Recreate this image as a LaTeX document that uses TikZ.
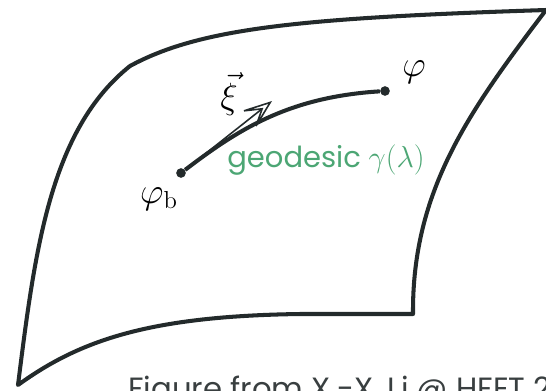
\documentclass[tikz,border=0pt]{standalone}
\usepackage{fontspec}
\setsansfont{Poppins}
\usetikzlibrary{arrows.meta}
\definecolor{ink}{HTML}{232A2B}
\definecolor{geo}{HTML}{4CA674}
\tikzset{
    edge/.style={ink, line width=2.3pt, line join=round},
    dot/.style={circle, fill=ink, inner sep=0pt, minimum size=5.5pt},
    lbl/.style={font=\fontsize{20}{24}\selectfont},
}
\begin{document}
\begin{tikzpicture}[x=0.02cm, y=-0.02cm]
    \clip (0, 0) rectangle (546, 390);
    \useasboundingbox (0, 0) rectangle (546, 390);
    % 流形的边界
    \draw[edge] (130, 66) .. controls (200, 28) and (300, 18) .. (546, 10)
        .. controls (470, 110) and (412, 190) .. (413, 314)
        -- (300, 314) .. controls (150, 316) and (80, 340) .. (18, 385)
        .. controls (35, 250) and (50, 130) .. cycle;
    % 两个点
    \node[dot] (b) at (181, 173) {};
    \node[dot] (p) at (385, 91) {};
    \node[lbl] (pl) at (414, 72) {$\varphi$};
    \node[lbl] (bl) at (159, 199) {$\varphi_{\mathrm{b}}$};
    % 测地线
    \draw[edge] (b) .. controls (240, 128) and (290, 97) .. (p);
    \node[geo, font=\sffamily\fontsize{16.5}{19}\selectfont] (gl) at (326, 160) {geodesic $\gamma(\lambda)$};
    % 切向量
    \coordinate (tip) at (272, 101);
    \draw[ink, line width=0.9pt, -{Stealth[length=20pt, width=15pt, inset=12pt, fill=white]}] (b) -- (tip);
    \node[lbl] (xi) at (229, 94) {$\vec{\xi}$};
    % 注释
    \node[ink!90, anchor=base west, font=\sffamily\fontsize{17.5}{20}\selectfont] (cap) at (122, 399) {Figure from X.-X. Li @ HFET 20};
\end{tikzpicture}
\end{document}
